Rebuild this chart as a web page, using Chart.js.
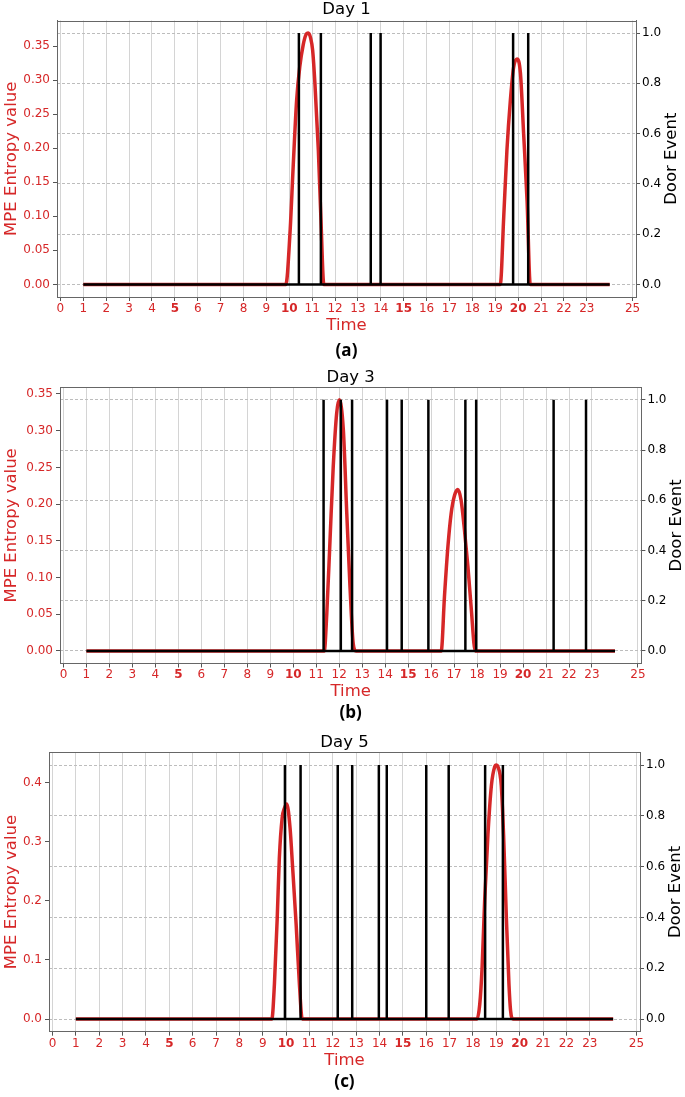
<!DOCTYPE html>
<html>
<head>
<meta charset="utf-8">
<title>MPE entropy and door events</title>
<script src="https://cdn.jsdelivr.net/npm/chart.js@4.4.1/dist/chart.umd.min.js"></script>
<style>
    body { margin: 0; background: #fff; }
    canvas { display: block; }
</style>
</head>
<body>
<canvas id="day1" width="685" height="366"></canvas>
<canvas id="day3" width="685" height="365"></canvas>
<canvas id="day5" width="685" height="366"></canvas>
<script>
// values
const xTicks = [0, 1, 2, 3, 4, 5, 6, 7, 8, 9, 10, 11, 12, 13, 14, 15, 16, 17, 18, 19, 20, 21, 22, 23, 25];
const boldTicks = [5, 10, 15, 20];
const doorTicks = [0, 0.2, 0.4, 0.6, 0.8, 1.0];

// Day 1
const day1Time = [1, 9.85, 10.03, 10.17, 10.32, 10.46, 10.61, 10.72, 10.83, 10.93, 11.02, 11.12, 11.27, 11.38, 11.51,
                  19.22, 19.37, 19.51, 19.66, 19.80, 19.95, 20.10, 20.24, 20.39, 20.53, 24];
const day1Mpe = [0, 0, 0.075, 0.173, 0.270, 0.320, 0.352, 0.366, 0.369, 0.362, 0.344, 0.295, 0.197, 0.099, 0,
                 0, 0.099, 0.197, 0.270, 0.318, 0.331, 0.310, 0.221, 0.123, 0, 0];
const day1Doors = [10.42, 11.38, 13.56, 13.99, 19.78, 20.44];
const day1MpeTicks = [0, 0.05, 0.10, 0.15, 0.20, 0.25, 0.30, 0.35];

// Day 3
const day3Time = [1, 11.35, 11.46, 11.60, 11.74, 11.89, 12.00, 12.18, 12.33, 12.47, 12.61, 12.73,
                  16.44, 16.58, 16.73, 16.87, 17.02, 17.16, 17.30, 17.45, 17.60, 17.74, 17.92, 24];
const day3Mpe = [0, 0, 0.051, 0.151, 0.251, 0.324, 0.342, 0.301, 0.187, 0.087, 0.010, 0,
                 0, 0.074, 0.142, 0.187, 0.212, 0.220, 0.206, 0.165, 0.115, 0.060, 0, 0];
const day3Doors = [11.32, 12.07, 12.56, 14.08, 14.72, 15.88, 17.49, 17.96, 21.33, 22.74];
const day3MpeTicks = [0, 0.05, 0.10, 0.15, 0.20, 0.25, 0.30, 0.35];

// Day 5
const day5Time = [1, 9.39, 9.50, 9.62, 9.71, 9.83, 9.93, 10.03, 10.17, 10.28, 10.43, 10.57, 10.69,
                  18.17, 18.29, 18.39, 18.50, 18.64, 18.79, 18.93, 19.00, 19.07, 19.21, 19.31, 19.43, 19.54, 19.61, 19.71, 24];
const day5Mpe = [0, 0, 0.059, 0.171, 0.272, 0.340, 0.357, 0.364, 0.323, 0.256, 0.160, 0.059, 0,
                 0, 0.025, 0.087, 0.200, 0.312, 0.396, 0.427, 0.430, 0.427, 0.396, 0.312, 0.171, 0.059, 0.014, 0, 0];
const day5Doors = [9.95, 10.62, 12.21, 12.83, 13.97, 14.31, 16.00, 16.96, 18.52, 19.28];
const day5MpeTicks = [0, 0.1, 0.2, 0.3, 0.4];

const RED = '#d62728';
Chart.defaults.font.family = "'DejaVu Sans', sans-serif";
Chart.defaults.animation = false;

// top spine (matplotlib box)
const frame = {
    id: 'frame',
    afterDatasetsDraw(chart) {
        const a = chart.chartArea;
        const ctx = chart.ctx;
        ctx.save();
        ctx.strokeStyle = '#666';
        ctx.lineWidth = 1;
        ctx.beginPath();
        ctx.moveTo(Math.round(a.left), Math.round(a.top) + 0.5);
        ctx.lineTo(Math.round(a.right) + 1, Math.round(a.top) + 0.5);
        ctx.stroke();
        ctx.restore();
    }
};

// right axis label reads bottom to top like the left one
const doorLabel = {
    id: 'doorLabel',
    afterDraw(chart) {
        const a = chart.chartArea;
        const ctx = chart.ctx;
        ctx.save();
        ctx.translate(a.right + 35.5, (a.top + a.bottom) / 2);
        ctx.rotate(-Math.PI / 2);
        ctx.font = "16.5px 'DejaVu Sans'";
        ctx.fillStyle = '#000';
        ctx.textAlign = 'center';
        ctx.textBaseline = 'middle';
        ctx.fillText('Door Event', 0, 0);
        ctx.restore();
    }
};

function doorLine(events, start, end) {
    const pts = [{ x: start, y: 0 }];
    events.forEach(t => {
        pts.push({ x: t, y: 0 }, { x: t, y: 1 }, { x: t, y: 0 });
    });
    pts.push({ x: end, y: 0 });
    return pts;
}

function makeDay(id, title, caption, time, mpe, doors, mpeTicks, decimals, box) {
    const peak = Math.max(...mpe);
    const ctx = document.getElementById(id).getContext('2d');
    return new Chart(ctx, {
        type: 'line',
        data: {
            datasets: [{
                label: 'Door Event',
                data: doorLine(doors, time[0], time[time.length - 1]),
                yAxisID: 'y2',
                borderColor: '#000',
                borderWidth: 2.5,
                pointRadius: 0,
                tension: 0,
            }, {
                label: 'MPE Entropy value',
                data: time.map((t, i) => ({ x: t, y: mpe[i] })),
                yAxisID: 'y',
                borderColor: RED,
                borderWidth: 3.5,
                pointRadius: 0,
                cubicInterpolationMode: 'monotone',
            }],
        },
        options: {
            responsive: false,
            maintainAspectRatio: false,
            layout: { padding: 0 },
            plugins: {
                legend: { display: false },
                tooltip: { enabled: false },
                title: {
                    display: true,
                    text: title,
                    fullSize: false,
                    color: '#000',
                    font: { size: 16.5, weight: 'normal', lineHeight: '18px' },
                    padding: box.titlePad,
                },
                subtitle: {
                    display: true,
                    text: caption,
                    position: 'bottom',
                    fullSize: false,
                    color: '#000',
                    font: { family: "'Open Sans', sans-serif", size: 17, weight: 'bold', lineHeight: '20px' },
                    padding: { top: 0, bottom: box.capPad },
                },
            },
            scales: {
                x: {
                    type: 'linear',
                    min: -0.15,
                    max: 25.15,
                    afterBuildTicks: axis => { axis.ticks = xTicks.map(v => ({ value: v })); },
                    afterFit: axis => { axis.height = box.xHeight; },
                    ticks: {
                        color: RED,
                        padding: 0.5,
                        maxRotation: 0,
                        autoSkip: false,
                        font: c => ({ size: 12, weight: boldTicks.includes(c.tick && c.tick.value) ? 'bold' : 'normal' }),
                        callback: v => String(v),
                    },
                    grid: { color: '#d4d4d4', lineWidth: 1, tickColor: '#555', tickLength: 4 },
                    border: { color: '#666', width: 1 },
                    title: {
                        display: true,
                        text: 'Time',
                        color: RED,
                        font: { size: 16.5, lineHeight: '20px' },
                        padding: { top: 0, bottom: box.timePad },
                    },
                },
                y: {
                    position: 'left',
                    min: -0.05 * peak,
                    max: 1.05 * peak,
                    afterBuildTicks: axis => { axis.ticks = mpeTicks.map(v => ({ value: v })); },
                    afterFit: axis => { axis.width = box.left; },
                    ticks: {
                        color: RED,
                        padding: 3,
                        font: { size: 12 },
                        callback: v => v.toFixed(decimals),
                    },
                    grid: { drawOnChartArea: false, tickColor: '#555', tickLength: 4 },
                    border: { color: '#666', width: 1 },
                    title: {
                        display: true,
                        text: 'MPE Entropy value',
                        color: RED,
                        font: { size: 16.5, lineHeight: '20px' },
                        padding: { top: 2, bottom: 0 },
                    },
                },
                y2: {
                    position: 'right',
                    min: -0.05,
                    max: 1.05,
                    afterBuildTicks: axis => { axis.ticks = doorTicks.map(v => ({ value: v })); },
                    afterFit: axis => { axis.width = box.right; },
                    ticks: {
                        color: '#000',
                        padding: 2,
                        font: { size: 12 },
                        callback: v => v.toFixed(1),
                    },
                    grid: { color: '#bdbdbd', lineWidth: 1, tickColor: '#555', tickLength: 4 },
                    border: { color: '#666', width: 1, dash: [3, 2] },
                },
            },
        },
        plugins: [frame, doorLabel],
    });
}

makeDay('day1', 'Day 1', '(a)', day1Time, day1Mpe, day1Doors, day1MpeTicks, 2,
    { titlePad: { top: 1, bottom: 1.5 }, left: 57, right: 49, xHeight: 44.5, timePad: 5.8, capPad: 4.5 });
makeDay('day3', 'Day 3', '(b)', day3Time, day3Mpe, day3Doors, day3MpeTicks, 2,
    { titlePad: { top: 2.3, bottom: 1 }, left: 60, right: 43.6, xHeight: 39.8, timePad: 1.6, capPad: 7.7 });
makeDay('day5', 'Day 5', '(c)', day5Time, day5Mpe, day5Doors, day5MpeTicks, 1,
    { titlePad: { top: 2.7, bottom: 0.6 }, left: 49, right: 45, xHeight: 40, timePad: 1, capPad: 5.3 });
</script>
</body>
</html>
